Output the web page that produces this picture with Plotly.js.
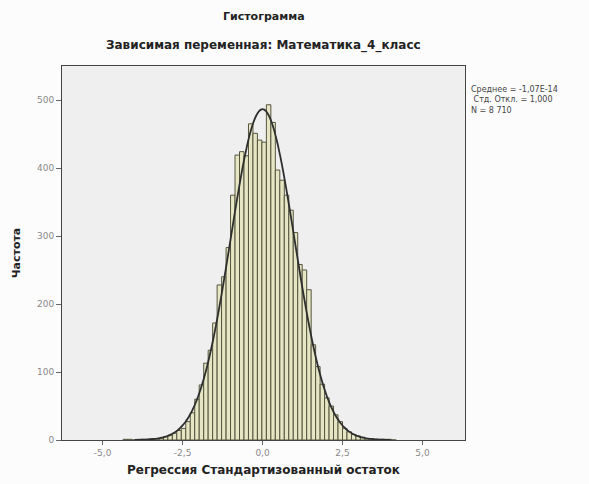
<!DOCTYPE html>
<html>
<head>
<meta charset="utf-8">
<script src="https://cdn.plot.ly/plotly-3.0.1.min.js"></script>
<style>html,body{margin:0;padding:0;background:#fff;}#chart{width:589px;height:484px;}</style>
</head>
<body>
<div id="chart"></div>
<script>
// Bin centres (regression standardized residual) and frequencies
const binCenters = [-4.29,-4.15,-4.01,-3.87,-3.73,-3.59,-3.45,-3.31,-3.17,-3.03,-2.89,-2.75,-2.61,-2.47,-2.33,-2.19,-2.05,-1.91,-1.77,-1.63,-1.49,-1.35,-1.21,-1.07,-0.93,-0.79,-0.65,-0.51,-0.37,-0.23,-0.09,0.05,0.19,0.33,0.47,0.61,0.75,0.89,1.03,1.17,1.31,1.45,1.59,1.73,1.87,2.01,2.15,2.29,2.43,2.57,2.71,2.85,2.99,3.13,3.27,3.41,3.55,3.69,3.83,3.97,4.11];
const frequencies = [1,1,0,1,1,1,2,2,3,5,7,10,14,17,27,40,60,81,113,132,172,228,240,283,360,419,424,418,465,451,441,438,493,467,397,382,360,338,305,258,250,221,140,108,82,62,50,37,27,17,12,8,6,4,2,2,1,1,1,1,0];
const binWidth = 0.14;
// Reported statistics
const statMean = 0;
const statSD = 1.0;
const statN = 8710;
const statLabels = ["Среднее = -1,07E-14", " Стд. Откл. = 1,000", "N = 8 710"];
// Axis ticks
const xTickVals = [-5, -2.5, 0, 2.5, 5];
const xTickText = ["-5,0", "-2,5", "0,0", "2,5", "5,0"];
const yTickVals = [0, 100, 200, 300, 400, 500];
// Normal curve sample points
const curveX = [];
for (let v = -4.0; v <= 4.0001; v += 0.05) curveX.push(+v.toFixed(2));
const curveY = curveX.map(x => statN * binWidth * Math.exp(-0.5 * Math.pow((x - statMean) / statSD, 2)) / (statSD * Math.sqrt(2 * Math.PI)));

const traces = [
  {
    type: 'bar', x: binCenters, y: frequencies, width: binWidth,
    marker: {color: '#e6e6c4', line: {color: '#55553f', width: 1}},
    hoverinfo: 'x+y'
  },
  {
    type: 'scatter', mode: 'lines', x: curveX, y: curveY,
    line: {color: '#2e2e2e', width: 1.8, shape: 'spline'}, hoverinfo: 'skip'
  }
];

const fontFam = '"DejaVu Sans", "Liberation Sans", sans-serif';
const layout = {
  width: 589, height: 484,
  margin: {l: 62, r: 124, t: 66, b: 44},
  paper_bgcolor: '#fcfcfc', plot_bgcolor: '#efefef',
  showlegend: false, bargap: 0,
  font: {family: fontFam, color: '#222'},
  xaxis: {
    range: [-6.27, 6.33], tickvals: xTickVals, ticktext: xTickText,
    ticks: 'outside', ticklen: 4, tickcolor: '#666', tickwidth: 1,
    showgrid: false, zeroline: false, showline: true, mirror: true,
    linecolor: '#444', linewidth: 1,
    tickfont: {size: 9, color: '#888', family: fontFam},
    title: {text: 'Регрессия Стандартизованный остаток', font: {size: 12, color: '#222', family: fontFam, weight: 'bold'}, standoff: 8}
  },
  yaxis: {
    range: [0, 550], tickvals: yTickVals,
    ticks: 'outside', ticklen: 5, tickcolor: '#666', tickwidth: 1,
    showgrid: false, zeroline: false, showline: true, mirror: true,
    linecolor: '#444', linewidth: 1,
    tickfont: {size: 9, color: '#888', family: fontFam},
    title: {text: 'Частота', font: {size: 11, color: '#222', family: fontFam, weight: 'bold'}, standoff: 14}
  },
  annotations: [
    {xref: 'paper', yref: 'paper', x: 0.5, y: 1, yshift: 50, xanchor: 'center', yanchor: 'middle', showarrow: false,
     text: '<b>Гистограмма</b>', font: {size: 11, color: '#222', family: fontFam}},
    {xref: 'paper', yref: 'paper', x: 0.5, y: 1, yshift: 21, xanchor: 'center', yanchor: 'middle', showarrow: false,
     text: '<b>Зависимая переменная: Математика_4_класс</b>', font: {size: 12, color: '#222', family: fontFam}},
    {xref: 'paper', yref: 'paper', x: 1, xshift: 4, y: 1, yshift: -17, xanchor: 'left', yanchor: 'top', align: 'left', showarrow: false,
     text: statLabels.join('<br>'), font: {size: 8, color: '#444', family: fontFam}}
  ]
};

Plotly.newPlot('chart', traces, layout, {displayModeBar: false, staticPlot: true});
</script>
</body>
</html>
